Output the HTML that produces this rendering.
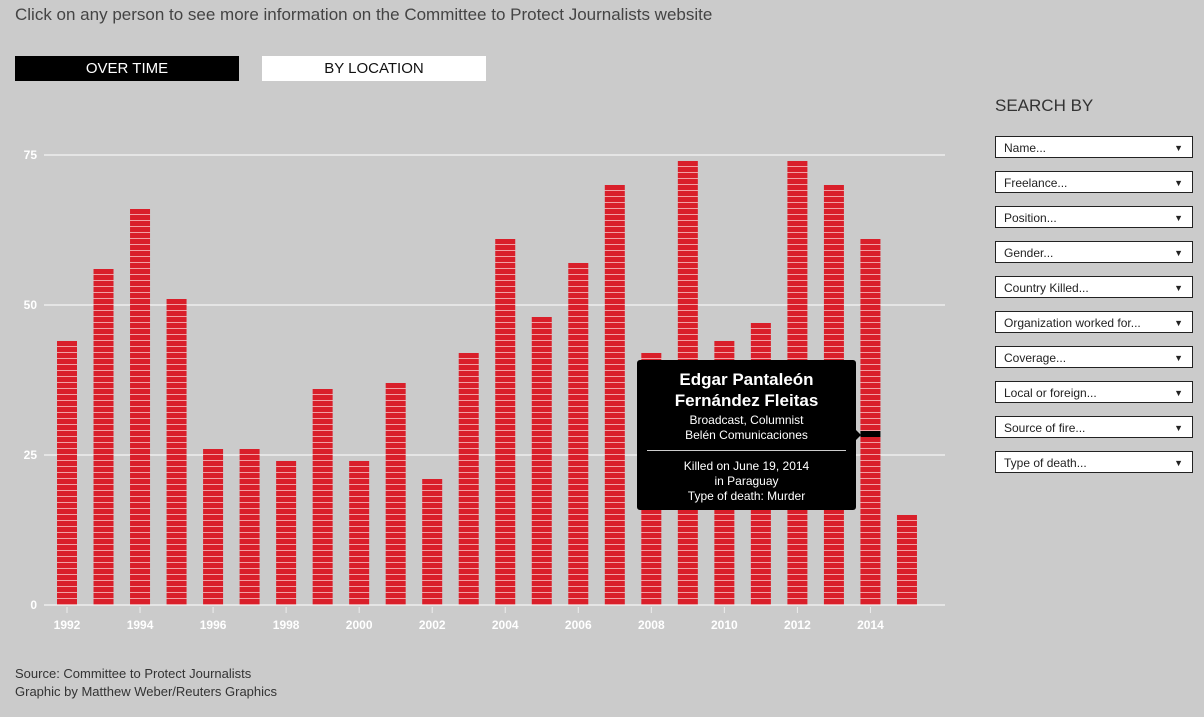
<!DOCTYPE html>
<html><head><meta charset="utf-8"><style>
body{margin:0;width:1204px;height:717px;background:#cbcbcb;font-family:"Liberation Sans",sans-serif;overflow:hidden;position:relative;color:#333}
.t{position:absolute;white-space:nowrap}
.btn{position:absolute;top:56px;width:224px;height:25px;line-height:25px;text-align:center;font-size:15px}
.sel{position:absolute;left:995px;width:198px;height:22px;border:1px solid #222;background:#fff;font-size:12px;line-height:22px;box-sizing:border-box;padding-left:8px;color:#222}
.sel:after{content:"▼";position:absolute;right:9px;font-size:9px}
</style></head><body>
<div class="t" style="left:15px;top:5px;font-size:17px;color:#444">Click on any person to see more information on the Committee to Protect Journalists website</div>
<div class="btn" style="left:15px;background:#000;color:#fff">OVER TIME</div>
<div class="btn" style="left:262px;background:#fff;color:#111">BY LOCATION</div>
<div class="t" style="left:995px;top:96px;font-size:17px;color:#333">SEARCH BY</div>
<div class="sel" style="top:136px">Name...</div>
<div class="sel" style="top:171px">Freelance...</div>
<div class="sel" style="top:206px">Position...</div>
<div class="sel" style="top:241px">Gender...</div>
<div class="sel" style="top:276px">Country Killed...</div>
<div class="sel" style="top:311px">Organization worked for...</div>
<div class="sel" style="top:346px">Coverage...</div>
<div class="sel" style="top:381px">Local or foreign...</div>
<div class="sel" style="top:416px">Source of fire...</div>
<div class="sel" style="top:451px">Type of death...</div>
<svg id="ch" width="1204" height="717" style="position:absolute;left:0;top:0"></svg>
<div class="t" style="left:15px;top:665px;font-size:13px;line-height:18px;color:#333">Source: Committee to Protect Journalists<br>Graphic by Matthew Weber/Reuters Graphics</div>
<div style="position:absolute;left:637px;top:360px;width:219px;height:150px;background:#000;border-radius:3px;color:#fff;text-align:center">
<div style="font-weight:bold;font-size:17px;line-height:21px;margin-top:9px">Edgar Pantaleón<br>Fernández Fleitas</div>
<div style="font-size:12px;line-height:15px;margin-top:2px">Broadcast, Columnist<br>Belén Comunicaciones</div>
<div style="height:1px;background:#ccc;margin:7px 10px 8px"></div>
<div style="font-size:12px;line-height:15px">Killed on June 19, 2014<br>in Paraguay<br>Type of death: Murder</div>
<div style="position:absolute;right:-5px;top:70px;border-left:5px solid #000;border-top:5px solid transparent;border-bottom:5px solid transparent"></div>
</div>
<script>
const years=[1992,1993,1994,1995,1996,1997,1998,1999,2000,2001,2002,2003,2004,2005,2006,2007,2008,2009,2010,2011,2012,2013,2014,2015];
const killed=[44,56,66,51,26,26,24,36,24,37,21,42,61,48,57,70,42,74,44,47,74,70,61,15];
const yTicks=[0,25,50,75];
const NS="http://www.w3.org/2000/svg",svg=document.getElementById('ch');
const y=v=>605-v*6, x=i=>67+i*36.52;
function mk(t,a){const e=document.createElementNS(NS,t);for(const k in a)e.setAttribute(k,a[k]);svg.appendChild(e);return e;}
yTicks.forEach(v=>{
 const l=mk('line',{x1:44,x2:945,y1:y(v),y2:y(v),stroke:'#eee','stroke-width':1.5});
 
 
 const t=mk('text',{x:37,y:y(v)+4,'text-anchor':'end','font-size':12,'font-weight':'bold',fill:'#fff'});t.textContent=v;
 
 
});
years.forEach((yr,i)=>{
 const g=mk('g',{});
 
 
 for(let k=0;k<killed[i];k++){
  const hl=(yr===2014&&k===28);
  const r=document.createElementNS(NS,'rect');
  r.setAttribute('x',x(i)-10);r.setAttribute('y',y(k+1));r.setAttribute('width',20);r.setAttribute('height',5);
  r.setAttribute('fill',hl?'#000':'#d91f2a');g.appendChild(r);
  const s=document.createElementNS(NS,'rect');
  s.setAttribute('x',x(i)-10);s.setAttribute('y',y(k+1)+5);s.setAttribute('width',20);s.setAttribute('height',1);
  s.setAttribute('fill',hl?'#000':'#f2a0a4');g.appendChild(s);
 }
 if(yr%2===0){
  const tk=mk('line',{x1:x(i),x2:x(i),y1:607,y2:613,stroke:'#eee'});
  
  
  const t=mk('text',{x:x(i),y:629,'text-anchor':'middle','font-size':12,'font-weight':'bold',fill:'#fff'});t.textContent=yr;
  
  
 }
});
</script>
</body></html>
